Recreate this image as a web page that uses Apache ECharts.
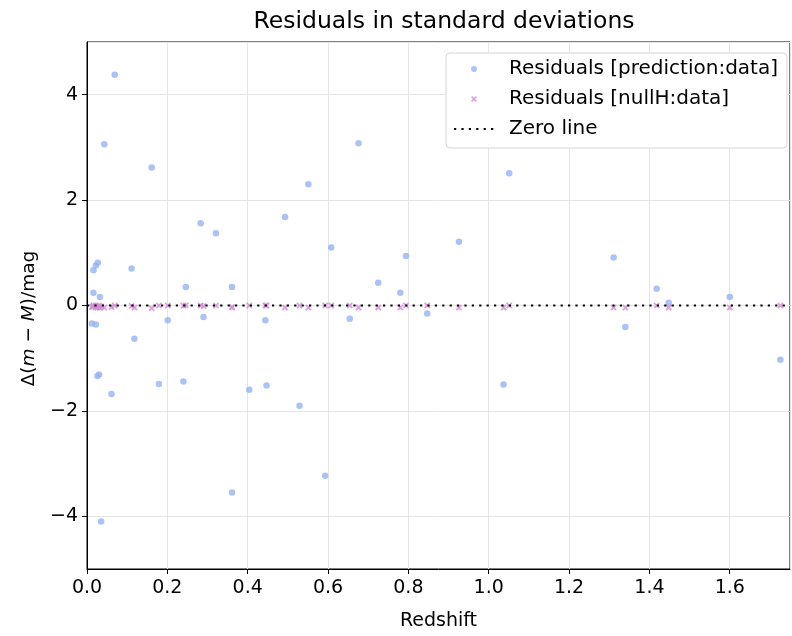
<!DOCTYPE html>
<html>
<head>
<meta charset="utf-8">
<script src="https://cdn.jsdelivr.net/npm/echarts@6/dist/echarts.min.js"></script>
<style>
  html, body { margin: 0; padding: 0; background: #fff; }
  #main { width: 792px; height: 636px; }
</style>
</head>
<body>
<div id="main"></div>
<script>
// redshift of each supernova
const redshift = [
  0.012, 0.016, 0.016, 0.022, 0.022, 0.026, 0.027, 0.030, 0.032, 0.035,
  0.043, 0.061, 0.069, 0.111, 0.118, 0.161, 0.179, 0.201, 0.240, 0.246,
  0.283, 0.290, 0.321, 0.361, 0.361, 0.404, 0.444, 0.447, 0.493, 0.529,
  0.551, 0.593, 0.608, 0.654, 0.676, 0.725, 0.780, 0.794, 0.847, 0.926,
  1.037, 1.051, 1.311, 1.340, 1.418, 1.448, 1.600, 1.726
];
// residuals prediction vs data (sigma)
const residPred = [
  -0.34, 0.67, 0.24, 0.76, -0.36, -1.34, 0.81, -1.31, 0.16, -4.10,
  3.06, -1.68, 4.38, 0.70, -0.63, 2.62, -1.49, -0.28, -1.44, 0.35,
  1.56, -0.22, 1.37, 0.35, -3.55, -1.60, -0.28, -1.52, 1.68, -1.90,
  2.30, -3.23, 1.10, -0.25, 3.08, 0.43, 0.24, 0.94, -0.15, 1.21,
  -1.50, 2.51, 0.91, -0.41, 0.32, 0.05, 0.16, -1.03
];
// residuals null hypothesis vs data (sigma)
const residNull = [
  -0.03, 0.00, -0.02, -0.04, 0.00, -0.04, -0.03, 0.00, -0.04, -0.02,
  -0.04, -0.03, 0.00, -0.01, -0.04, -0.05, 0.00, 0.00, 0.00, 0.00,
  0.00, -0.01, 0.00, -0.04, -0.03, 0.00, 0.00, 0.00, -0.04, 0.00,
  -0.04, 0.00, 0.00, 0.00, -0.04, -0.04, -0.04, 0.00, 0.00, -0.04,
  -0.04, 0.00, -0.04, -0.04, 0.00, -0.04, -0.04, 0.00
];
const zeroX = [0, 1.75];
const zeroY = [0, 0];

const xTicks = ['0.0', '0.2', '0.4', '0.6', '0.8', '1.0', '1.2', '1.4', '1.6'];

const pts = (xs, ys) => xs.map((x, i) => [x, ys[i]]);
const FONT = 'DejaVu Sans';
const FS = 19;
const xMark = 'path://M0,2L2,0L5,3L8,0L10,2L7,5L10,8L8,10L5,7L2,10L0,8L3,5Z';

const chart = echarts.init(document.getElementById('main'), null, { renderer: 'canvas' });
chart.setOption({
  backgroundColor: '#fff',
  animation: false,
  textStyle: { fontFamily: FONT },
  title: {
    text: 'Residuals in standard deviations',
    left: 439,
    textAlign: 'center',
    top: 5,
    textStyle: { fontFamily: FONT, fontSize: 23.5, fontWeight: 'normal', color: '#000' }
  },
  legend: {
    orient: 'vertical',
    right: 5,
    top: 53,
    padding: [6, 9, 9, 7],
    itemGap: 10,
    itemWidth: 40,
    itemHeight: 6,
    backgroundColor: '#fff',
    borderColor: '#d6d6d6',
    borderWidth: 1,
    borderRadius: 4,
    textStyle: { fontFamily: FONT, fontSize: 20, color: '#000', padding: [0, 0, 0, 10] },
    data: [
      { name: 'Residuals [prediction:data]', icon: 'circle' },
      { name: 'Residuals [nullH:data]', icon: xMark },
      { name: 'Zero line', itemStyle: { opacity: 0 } }
    ]
  },
  grid: {
    left: 87, right: 2, top: 42, bottom: 65,
    show: true, borderColor: '#000', borderWidth: 1
  },
  xAxis: {
    type: 'value',
    min: 0, max: 1.75, interval: 0.2,
    name: 'Redshift',
    nameLocation: 'middle',
    nameGap: 43,
    nameTextStyle: { fontFamily: FONT, fontSize: FS, color: '#000' },
    axisLine: { show: true, onZero: false, lineStyle: { color: '#000', width: 1 } },
    axisTick: { show: true, length: 5, lineStyle: { color: '#000' } },
    axisLabel: {
      fontFamily: FONT, fontSize: FS, color: '#000', margin: 10,
      showMaxLabel: false,
      formatter: v => xTicks.includes(v.toFixed(1)) ? v.toFixed(1) : ''
    },
    splitLine: { show: true, lineStyle: { color: '#e6e6e6', width: 1 } }
  },
  yAxis: {
    type: 'value',
    min: -5, max: 5, splitNumber: 5,
    name: '{a|Δ(}{i|m}{a| − }{i|M}{a|)/mag}',
    nameLocation: 'middle',
    nameGap: 48,
    nameRotate: 90,
    nameTextStyle: {
      padding: [0, 26, 0, 0],
      rich: {
        a: { fontFamily: FONT, fontSize: FS - 0.5, color: '#000' },
        i: { fontFamily: FONT, fontSize: FS - 0.5, color: '#000', fontStyle: 'italic' }
      }
    },
    axisLine: { show: true, onZero: false, lineStyle: { color: '#000', width: 1 } },
    axisTick: { show: true, length: 5, lineStyle: { color: '#000' } },
    axisLabel: {
      fontFamily: FONT, fontSize: FS, color: '#000', margin: 9,
      showMinLabel: false, showMaxLabel: false,
      formatter: v => (Math.abs(v) === 5 ? '' : (v < 0 ? '\u2212' + Math.abs(v) : String(v)))
    },
    splitLine: { show: true, lineStyle: { color: '#e6e6e6', width: 1 } }
  },
  series: [
    {
      name: 'Residuals [prediction:data]',
      type: 'scatter',
      data: pts(redshift, residPred),
      symbol: 'circle',
      symbolSize: 6.5,
      itemStyle: { color: '#96b3f6' },
      z: 2
    },
    {
      name: 'Residuals [nullH:data]',
      type: 'scatter',
      data: pts(redshift, residNull),
      symbol: xMark,
      symbolSize: 6.5,
      itemStyle: { color: '#d58cd6', opacity: 0.8 },
      z: 3
    },
    {
      name: 'Zero line',
      type: 'line',
      data: pts(zeroX, zeroY),
      symbol: 'none',
      lineStyle: { color: '#000', width: 2.2, type: [2.2, 5.2] },
      itemStyle: { color: '#000' },
      z: 4
    }
  ]
});
</script>
</body>
</html>
